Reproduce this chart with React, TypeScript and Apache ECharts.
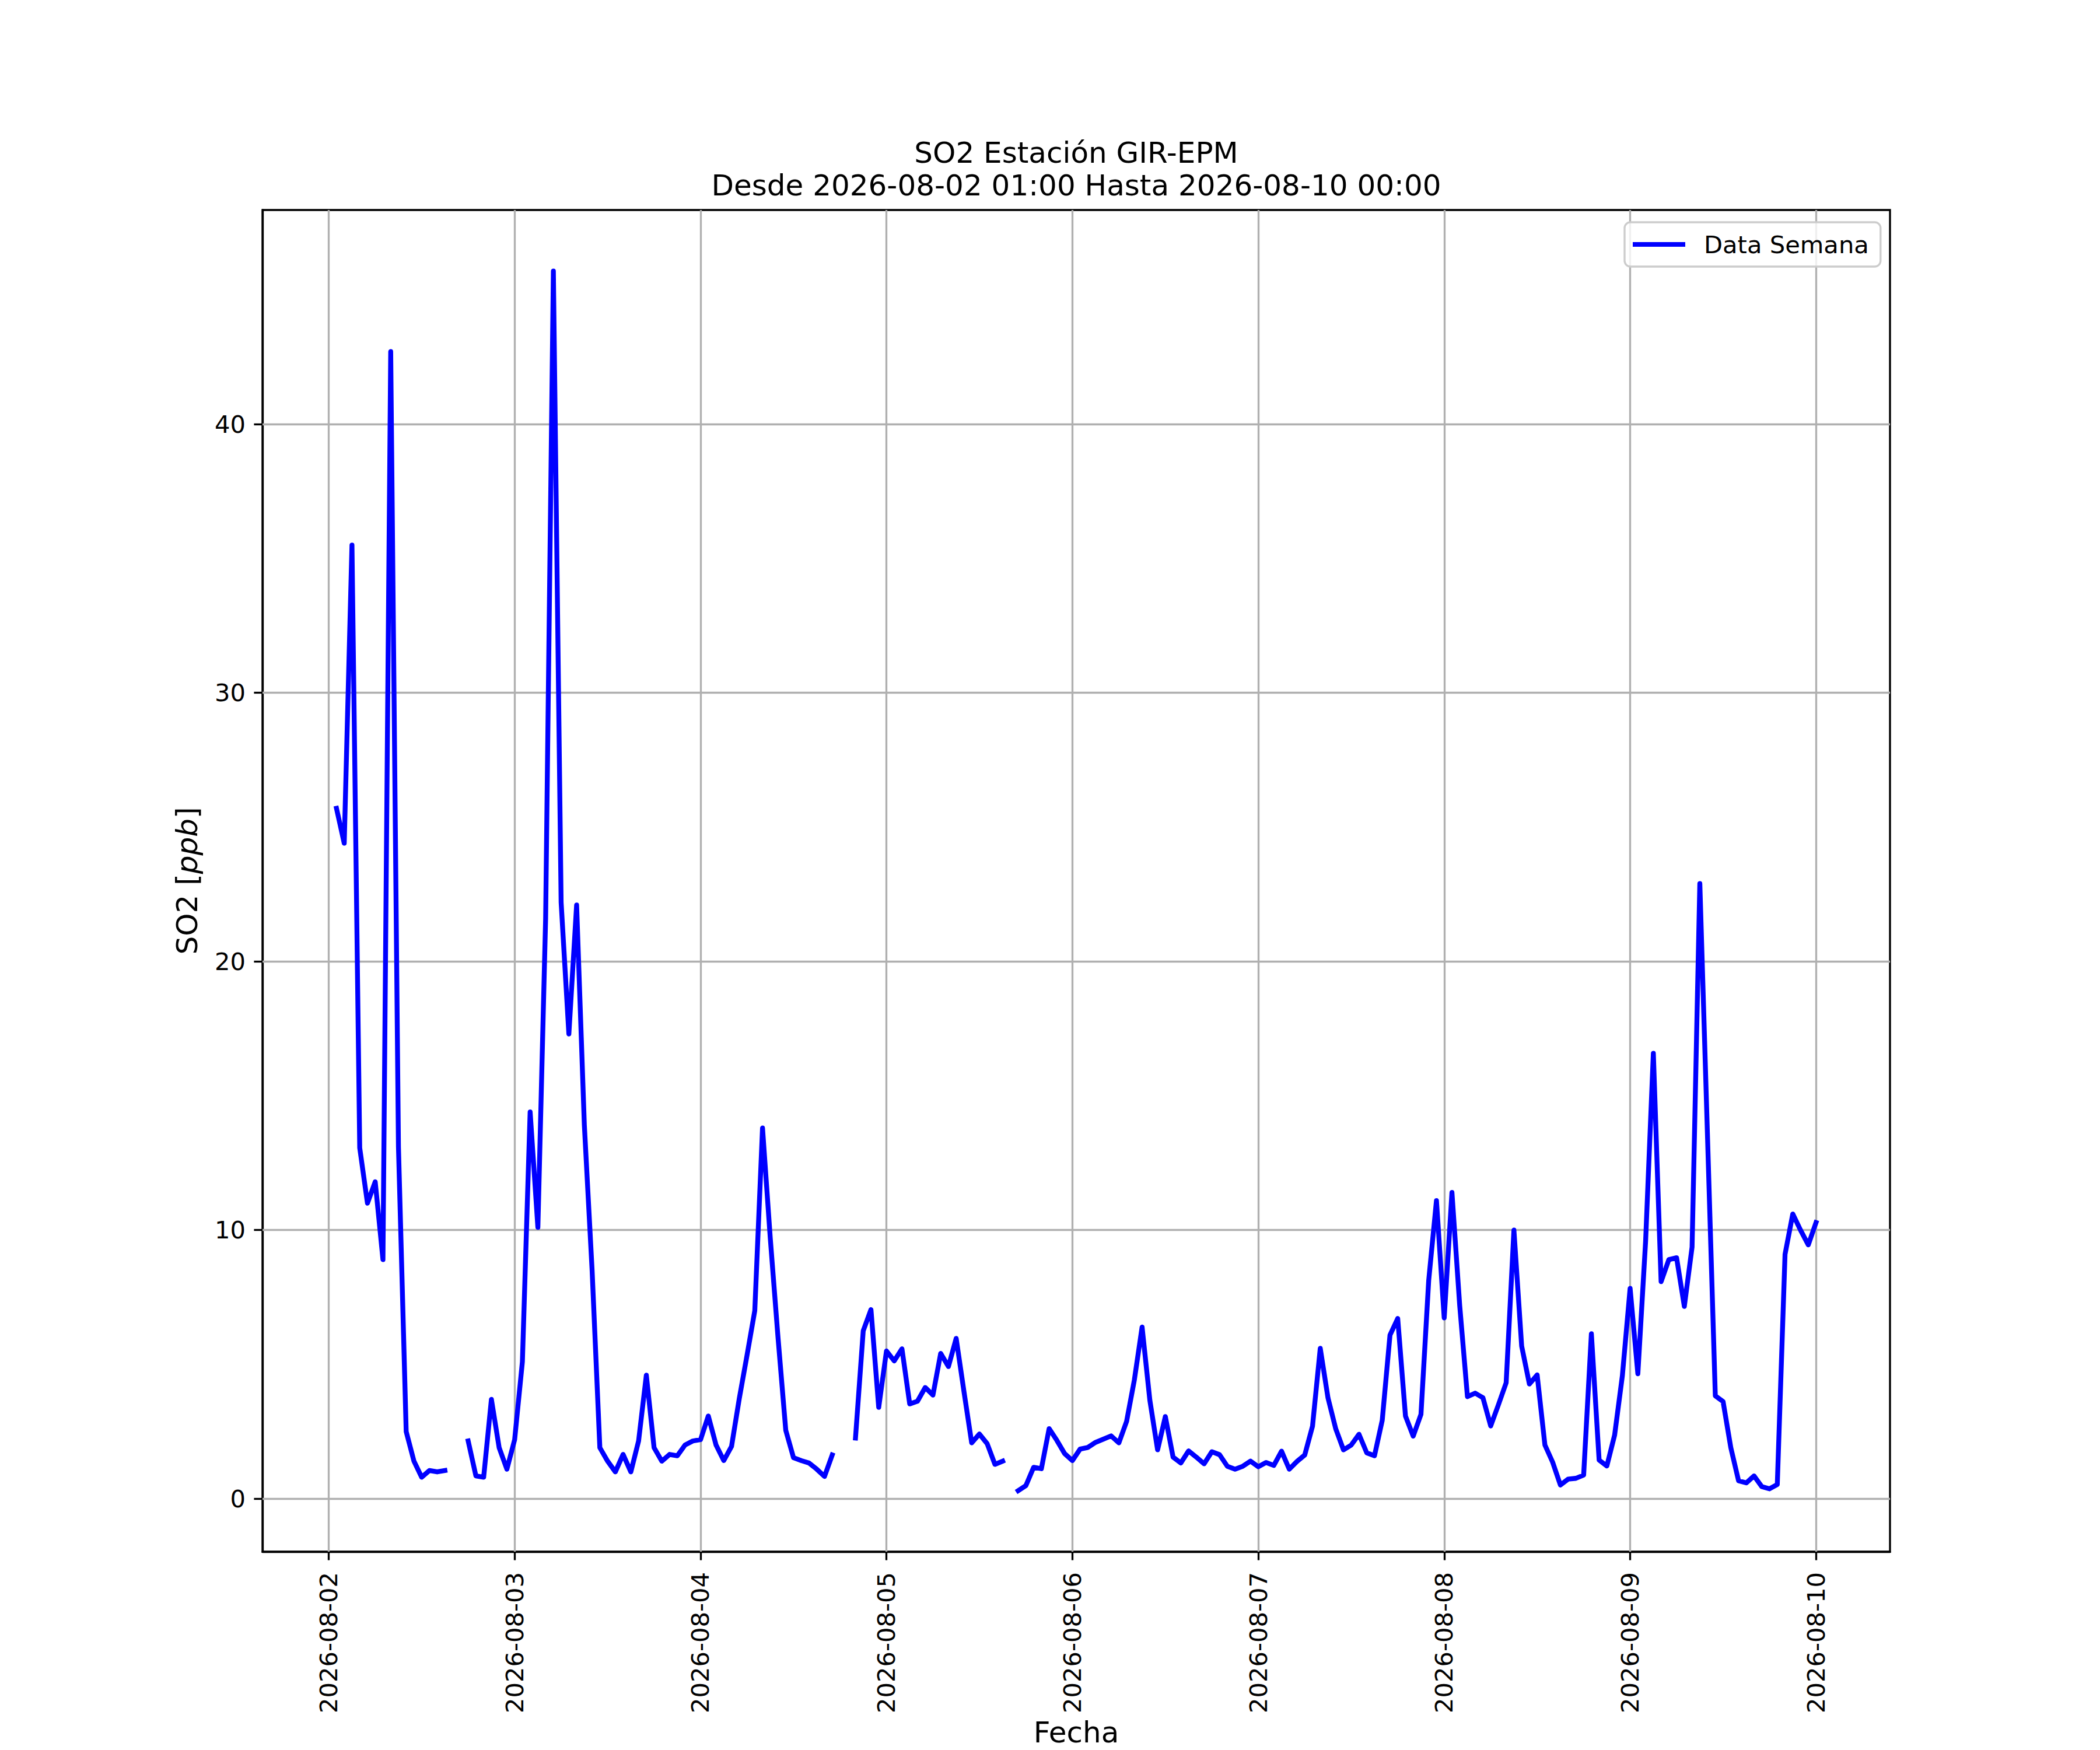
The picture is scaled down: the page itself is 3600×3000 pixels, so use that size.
import React, { useEffect, useRef } from 'react';
import * as echarts from 'echarts';

const TITLE_LINE1 = 'SO2 Estación GIR-EPM';
const TITLE_LINE2 = 'Desde 2026-08-02 01:00 Hasta 2026-08-10 00:00';
const SERIES_NAME = 'Data Semana';
const X_NAME = 'Fecha';

// hours counted from 2026-08-02 00:00
const X_TICK_HOURS = [0, 24, 48, 72, 96, 120, 144, 168, 192];
const X_TICK_LABELS = [
  '2026-08-02', '2026-08-03', '2026-08-04', '2026-08-05', '2026-08-06',
  '2026-08-07', '2026-08-08', '2026-08-09', '2026-08-10',
];
const Y_TICKS = [0, 10, 20, 30, 40];

// hourly SO2 [ppb], 2026-08-02 01:00 .. 2026-08-10 00:00 (null = missing)
const SO2_DAY1 = [25.7, 24.4, 35.5, 13.06, 11.0, 11.8, 8.9, 42.7, 13.1, 2.5, 1.4, 0.8, 1.05, 1.0, 1.05, null, null, 2.15, 0.85, 0.8, 3.7, 1.9, 1.1, 2.2];
const SO2_DAY2 = [5.1, 14.4, 10.1, 21.6, 45.7, 22.2, 17.3, 22.1, 13.9, 8.5, 1.9, 1.4, 1.0, 1.65, 1.0, 2.15, 4.6, 1.9, 1.4, 1.65, 1.6, 2.0, 2.15, 2.2];
const SO2_DAY3 = [3.08, 2.0, 1.42, 1.95, 3.73, 5.34, 7.0, 13.8, 9.7, 6.0, 2.55, 1.53, 1.42, 1.33, 1.1, 0.83, 1.63, null, null, 2.26, 6.25, 7.04, 3.4, 5.5];
const SO2_DAY4 = [5.13, 5.58, 3.53, 3.63, 4.14, 3.86, 5.41, 4.92, 5.97, 4.0, 2.08, 2.41, 2.05, 1.28, 1.4, null, 0.3, 0.49, 1.17, 1.12, 2.61, 2.17, 1.68, 1.42];
const SO2_DAY5 = [1.85, 1.91, 2.1, 2.22, 2.34, 2.08, 2.88, 4.42, 6.39, 3.67, 1.82, 3.06, 1.55, 1.33, 1.78, 1.55, 1.3, 1.75, 1.64, 1.21, 1.1, 1.21, 1.4, 1.19];
const SO2_DAY6 = [1.35, 1.24, 1.77, 1.1, 1.39, 1.63, 2.7, 5.6, 3.75, 2.6, 1.82, 2.0, 2.4, 1.71, 1.6, 2.92, 6.09, 6.71, 3.08, 2.33, 3.14, 8.13, 11.1, 6.73];
const SO2_DAY7 = [11.4, 7.2, 3.8, 3.93, 3.76, 2.71, 3.5, 4.32, 10.0, 5.68, 4.27, 4.61, 2.0, 1.36, 0.51, 0.73, 0.76, 0.88, 6.14, 1.44, 1.22, 2.37, 4.58, 7.83];
const SO2_DAY8 = [4.65, 9.58, 16.58, 8.08, 8.9, 8.97, 7.16, 9.37, 22.9, 13.4, 3.83, 3.62, 1.9, 0.67, 0.59, 0.85, 0.45, 0.37, 0.53, 9.1, 10.6, 10.0, 9.45, 10.28];

const FIRST_HOUR = 1;

const FONT = 'DejaVu Sans';
const PT = 300 / 72;

export default function App() {
  const ref = useRef<HTMLDivElement>(null);

  useEffect(() => {
    document.body.style.margin = '0';
    if (!ref.current) return;
    const chart = echarts.init(ref.current, null, { renderer: 'svg' });

    const values = [
      ...SO2_DAY1, ...SO2_DAY2, ...SO2_DAY3, ...SO2_DAY4,
      ...SO2_DAY5, ...SO2_DAY6, ...SO2_DAY7, ...SO2_DAY8,
    ];
    const points = values.map((v, i) => [FIRST_HOUR + i, v]);
    const hours = points.map((p) => p[0] as number);
    const valid = values.filter((v) => v !== null) as number[];

    const xLo = Math.min(...hours);
    const xHi = Math.max(...hours);
    const xPad = (xHi - xLo) * 0.05;
    const yLo = Math.min(...valid);
    const yHi = Math.max(...valid);
    const yPad = (yHi - yLo) * 0.05;

    const lw = 0.8 * PT;
    const tickLen = 3.5 * PT;
    const tickFont = 10 * PT;
    const labelFont = 12 * PT;

    const option: any = {
      animation: false,
      backgroundColor: '#ffffff',
      title: {
        text: TITLE_LINE1 + '\n' + TITLE_LINE2,
        left: 1845,
        top: 234,
        textAlign: 'center',
        padding: 0,
        textStyle: {
          fontFamily: FONT,
          fontSize: labelFont,
          fontWeight: 'normal',
          color: '#000000',
          lineHeight: 56,
        },
      },
      legend: {
        data: [SERIES_NAME],
        left: 2785,
        top: 381,
        orient: 'vertical',
        padding: [17, 20, 17, 14],
        itemWidth: 90,
        itemHeight: 8,
        icon: 'rect',
        borderColor: '#cccccc',
        borderWidth: lw,
        borderRadius: 10,
        backgroundColor: 'rgba(255,255,255,0.8)',
        textStyle: {
          fontFamily: FONT,
          fontSize: tickFont,
          color: '#000000',
          padding: [0, 0, 0, 27],
        },
      },
      grid: {
        left: 450,
        right: 360,
        top: 360,
        bottom: 330,
        show: true,
        borderColor: '#000000',
        borderWidth: lw,
        backgroundColor: 'transparent',
      },
      xAxis: {
        type: 'value',
        min: xLo - xPad,
        max: xHi + xPad,
        name: X_NAME,
        nameLocation: 'middle',
        nameGap: 285,
        nameTextStyle: { fontFamily: FONT, fontSize: labelFont, color: '#000000' },
        axisLine: { show: true, onZero: false, lineStyle: { color: '#000000', width: lw } },
        axisTick: {
          show: true,
          customValues: X_TICK_HOURS,
          length: tickLen,
          lineStyle: { color: '#000000', width: lw },
        },
        axisLabel: {
          customValues: X_TICK_HOURS,
          formatter: (v: number) => {
            const idx = X_TICK_HOURS.indexOf(Math.round(v));
            return idx >= 0 ? X_TICK_LABELS[idx] : '';
          },
          rotate: 90,
          margin: 35,
          fontFamily: FONT,
          fontSize: tickFont,
          color: '#000000',
        },
        splitLine: { show: false },
      },
      yAxis: {
        type: 'value',
        min: yLo - yPad,
        max: yHi + yPad,
        name: '{n|SO2 [}{i|ppb}{n|]}',
        nameLocation: 'middle',
        nameGap: 104,
        nameRotate: 90,
        nameTextStyle: {
          rich: {
            n: { fontFamily: FONT, fontSize: labelFont, color: '#000000' },
            i: { fontFamily: FONT, fontSize: labelFont, fontStyle: 'italic', color: '#000000' },
          },
        },
        axisLine: { show: true, onZero: false, lineStyle: { color: '#000000', width: lw } },
        axisTick: {
          show: true,
          customValues: Y_TICKS,
          length: tickLen,
          lineStyle: { color: '#000000', width: lw },
        },
        axisLabel: {
          customValues: Y_TICKS,
          margin: 29,
          fontFamily: FONT,
          fontSize: tickFont,
          color: '#000000',
        },
        splitLine: { show: false },
      },
      series: [
        {
          name: 'grid',
          type: 'line',
          data: points,
          symbol: 'none',
          silent: true,
          z: 1,
          lineStyle: { opacity: 0 },
          markLine: {
            silent: true,
            z: 1,
            symbol: ['none', 'none'],
            label: { show: false },
            emphasis: { disabled: true },
            lineStyle: { color: '#b0b0b0', width: lw, type: 'solid' },
            data: [
              ...X_TICK_HOURS.map((h) => ({ xAxis: h })),
              ...Y_TICKS.map((v) => ({ yAxis: v })),
            ],
          },
        },
        {
          name: SERIES_NAME,
          type: 'line',
          data: points,
          symbol: 'none',
          showSymbol: false,
          connectNulls: false,
          color: '#0000ff',
          z: 3,
          lineStyle: { color: '#0000ff', width: 2 * PT, join: 'round', cap: 'square' },
        },
      ],
    };

    chart.setOption(option);
    return () => {
      chart.dispose();
    };
  }, []);

  return <div ref={ref} style={{ width: 3600, height: 3000 }} />;
}
